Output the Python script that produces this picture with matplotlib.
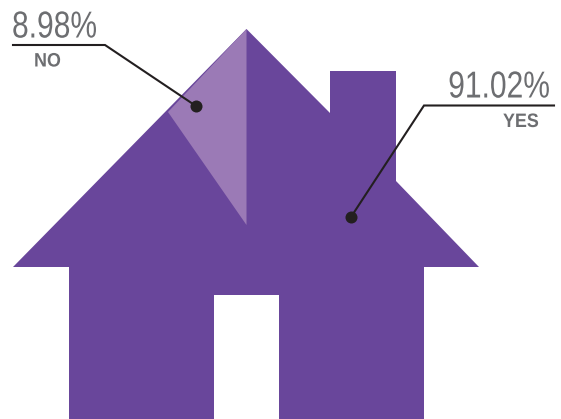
""" House pictogram, share of YES / NO answers
"""
import matplotlib
matplotlib.use("Agg")
import matplotlib.pyplot as plt
from matplotlib.patches import Polygon
from matplotlib.patheffects import AbstractPathEffect
from matplotlib.transforms import Affine2D

categories = ["NO", "YES"]
shares = [8.98, 91.02]

DARK = "#69469b"
LIGHT = "#9b7ab6"
TEXT = "#6d6e71"
LINE = "#231f20"

# shape of the house, in pixels of the picture
house = [(246.5, 29), (330, 113), (330, 71), (396, 71), (396, 181), (479, 267),
         (424, 267), (424, 419), (279, 419), (279, 295), (214, 295), (214, 419),
         (69, 419), (69, 267), (13, 267)]
wedge = [(246.5, 29), (246.5, 225), (168, 112)]


class Squeeze(AbstractPathEffect):
    """ narrow the glyphs around x0, there is no condensed font installed """

    def __init__(self, x0, factor):
        super().__init__()
        self.x0 = x0
        self.factor = factor

    def draw_path(self, renderer, gc, tpath, affine, rgbFace=None):
        squeeze = Affine2D().translate(-self.x0, 0).scale(self.factor, 1).translate(self.x0, 0)
        renderer.draw_path(gc, tpath, affine + squeeze, rgbFace)


def label(x, y, s, size, factor, ha, weight="normal"):
    t = ax.text(x, y, s, color=TEXT, fontsize=size, ha=ha, va="baseline", fontweight=weight)
    t.set_path_effects([Squeeze(x, factor)])


plt.rcParams['font.family'] = ['Liberation Sans', 'DejaVu Sans']

fig = plt.figure(figsize=(5.61, 4.19), dpi=100)
ax = fig.add_axes([0, 0, 1, 1])
ax.set_xlim(0, 561)
ax.set_ylim(419, 0)
ax.axis("off")

ax.add_patch(Polygon(house, closed=True, color=DARK, lw=0))
ax.add_patch(Polygon(wedge, closed=True, color=LIGHT, lw=0))

# leader lines: dot, elbow, end of the rule
ax.plot([196, 105, 13], [106, 45, 45], color=LINE, lw=1.5, solid_joinstyle="miter")
ax.plot([351, 424, 554], [217, 105.5, 105.5], color=LINE, lw=1.5, solid_joinstyle="miter")
ax.scatter([196, 351], [106, 217], color=LINE, s=75, zorder=3, lw=0)

label(12, 37.5, f"{shares[0]:.2f}%", 27, 0.8, "left")
label(47.5, 66.5, categories[0], 14, 0.92, "center", "bold")
label(550, 97.5, f"{shares[1]:.2f}%", 27, 0.8, "right")
label(539, 127, categories[1], 14, 0.92, "right", "bold")

fig.savefig("out.png", dpi=100)
